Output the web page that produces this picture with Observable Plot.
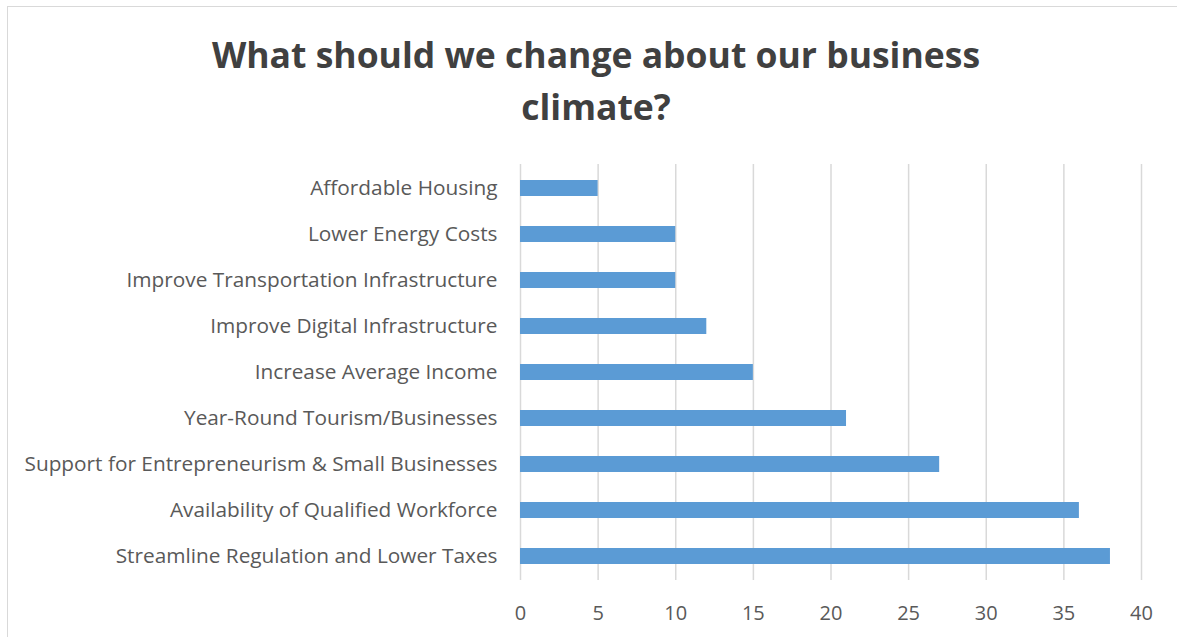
<!DOCTYPE html>
<html><head><meta charset="utf-8">
<script src="https://cdn.jsdelivr.net/npm/d3@7"></script>
<script src="https://cdn.jsdelivr.net/npm/@observablehq/plot@0.6"></script>
<style>
body{margin:0;background:#fff;width:1177px;height:637px;overflow:hidden;position:relative;font-family:"Open Sans",sans-serif;}
#frame{position:absolute;left:7px;top:6px;width:1190px;height:650px;border:1px solid #d9d9d9;box-sizing:border-box;}
#title{position:absolute;left:0;top:28px;width:1192px;text-align:center;font-weight:bold;font-size:35.5px;line-height:52px;color:#404040;}
#chart{position:absolute;left:0;top:0;}
</style></head>
<body>
<div id="frame"></div>
<div id="chart"></div>
<div id="title">What should we change about our business<br>climate?</div>
<script>
const categories = ["Affordable Housing","Lower Energy Costs","Improve Transportation Infrastructure","Improve Digital Infrastructure","Increase Average Income","Year-Round Tourism/Businesses","Support for Entrepreneurism & Small Businesses","Availability of Qualified Workforce","Streamline Regulation and Lower Taxes"];
const values = [5,10,10,12,15,21,27,36,38];
const xTicks = [0,5,10,15,20,25,30,35,40];
const data = categories.map((c,i)=>({category:c,value:values[i]}));
const chart = Plot.plot({
  width:1177, height:637,
  marginLeft:520, marginRight:36, marginTop:164, marginBottom:57,
  style:{fontFamily:"'Open Sans', sans-serif", fontSize:"20px", color:"#595959", background:"transparent"},
  x:{domain:[0,40], ticks:xTicks, label:null},
  y:{domain:categories, paddingInner:0.65, paddingOuter:0.325, label:null},
  marks:[
    Plot.gridX(xTicks,{stroke:"#d9d9d9", strokeWidth:1.5, strokeOpacity:1}),
    Plot.barX(data,{x:"value", y:"category", fill:"#5b9bd5"}),
    Plot.axisX({ticks:xTicks, tickSize:0, tickPadding:25, fontSize:20, fill:"#595959", label:null}),
    Plot.axisY({tickSize:0, tickPadding:23, fontSize:20.8, fill:"#595959", label:null})
  ]
});
document.getElementById("chart").appendChild(chart);
</script>
</body></html>
